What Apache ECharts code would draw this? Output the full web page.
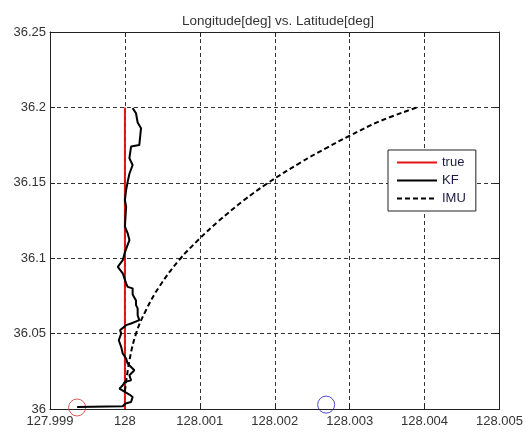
<!DOCTYPE html>
<html>
<head>
<meta charset="utf-8">
<script src="https://cdn.jsdelivr.net/npm/echarts@6/dist/echarts.min.js"></script>
<style>
  html, body { margin: 0; padding: 0; background: #fff; }
  #chart1 { width: 526px; height: 439px; }
</style>
</head>
<body>
<div id="chart1"></div>
<script>
  var xTicks = [127.999, 128, 128.001, 128.002, 128.003, 128.004, 128.005];
  var yTicks = [36, 36.05, 36.1, 36.15, 36.2, 36.25];

  // true 궤적
  var trueLon = [128.0, 128.0];
  var trueLat = [36.0, 36.2];

  // KF 추정
  var kfLon = [127.999362, 127.999971, 128.000007, 128.000082, 128.000103, 128.000060, 127.999927,
    127.999971, 128.000000, 128.000082, 128.000060, 128.000126, 128.000082, 128.000037, 128.000016,
    127.999971, 127.999950, 127.999918, 127.999950, 127.999936, 128.000016, 128.000082, 128.000192,
    128.000170, 128.000170, 128.000148, 128.000148, 128.000103, 128.000103, 128.000037, 128.000016,
    127.999971, 127.999905, 127.999971, 128.000000, 128.000060, 128.000037, 128.000000, 128.000016,
    128.000000, 128.000016, 128.000037, 128.000060, 128.000103, 128.000060, 128.000082, 128.000192,
    128.000215, 128.000170, 128.000148, 128.000103];
  var kfLat = [36.0013, 36.0018, 36.0036, 36.0046, 36.0080, 36.0096, 36.0135,
    36.0157, 36.0180, 36.0190, 36.0224, 36.0257, 36.0279, 36.0301, 36.0335,
    36.0368, 36.0412, 36.0456, 36.0500, 36.0523, 36.0556, 36.0567, 36.0589,
    36.0622, 36.0667, 36.0689, 36.0720, 36.0760, 36.0800, 36.0810, 36.0833,
    36.0900, 36.0943, 36.0987, 36.1040, 36.1120, 36.1165, 36.1210, 36.1341,
    36.1386, 36.1452, 36.1507, 36.1560, 36.1618, 36.1663, 36.1740, 36.1750,
    36.1862, 36.1900, 36.1961, 36.1995];

  // IMU 단독
  var imuLon = [128.00000, 128.00006, 128.000148, 128.000281, 128.000457, 128.000722, 128.00100,
    128.00125, 128.00158, 128.00190, 128.00235, 128.00270, 128.00300, 128.00340, 128.00390];
  var imuLat = [36.012, 36.032, 36.050, 36.0655, 36.081, 36.0987, 36.1131,
    36.1246, 36.1381, 36.1496, 36.1636, 36.1734, 36.1812, 36.1908, 36.200];

  // 시작/끝 표시
  var startPt = [127.999362, 36.0010];
  var endPt = [128.002686, 36.0029];

  var pairs = (xs, ys) => xs.map((x, i) => [x, ys[i]]);

  const drawChart = chartId => {
    let myChart = echarts.init(document.getElementById(chartId));
    let option;
    let fmt = v => String(parseFloat(v.toFixed(3)));
    let axisText = { color: '#333', fontFamily: 'Liberation Sans, Arial', fontSize: 13 };
    let split = { show: true, lineStyle: { color: '#333', type: [4, 3], width: 1 } };
    let frame = { show: true, lineStyle: { color: '#222', width: 1 } };

    option = {
      animation: false,
      backgroundColor: '#fff',
      title: {
        text: 'Longitude[deg] vs. Latitude[deg]',
        left: 273,
        top: 9,
        textAlign: 'center',
        textStyle: { color: '#333', fontFamily: 'Liberation Sans, Arial', fontSize: 13.5, fontWeight: 'normal' }
      },
      grid: { left: 50, right: 24, top: 32, bottom: 30 },
      legend: {
        data: ['true', 'KF', 'IMU'],
        orient: 'vertical',
        left: 388,
        top: 150,
        itemWidth: 40,
        itemHeight: 14,
        itemGap: 5,
        padding: [6, 10, 6, 8],
        borderColor: '#222',
        borderWidth: 1,
        backgroundColor: '#fff',
        itemStyle: { opacity: 0 },
        textStyle: { color: '#1a1a44', fontFamily: 'Liberation Sans, Arial', fontSize: 13 }
      },
      xAxis: [
        {
          type: 'value', position: 'bottom', min: 127.999, max: 128.005, interval: 0.001,
          axisLine: frame, axisTick: { inside: true, length: 5, lineStyle: { color: '#222' } },
          axisLabel: Object.assign({ formatter: fmt, margin: 6 }, axisText),
          splitLine: split
        },
        {
          type: 'value', position: 'top', min: 127.999, max: 128.005, interval: 0.001,
          axisLine: frame, axisTick: { inside: true, length: 5, lineStyle: { color: '#222' } },
          axisLabel: { show: false }, splitLine: { show: false }
        }
      ],
      yAxis: [
        {
          type: 'value', position: 'left', min: 36, max: 36.25, interval: 0.05,
          axisLine: frame, axisTick: { inside: true, length: 5, lineStyle: { color: '#222' } },
          axisLabel: Object.assign({ formatter: fmt, margin: 4 }, axisText),
          splitLine: split
        },
        {
          type: 'value', position: 'right', min: 36, max: 36.25, interval: 0.05,
          axisLine: frame, axisTick: { inside: true, length: 5, lineStyle: { color: '#222' } },
          axisLabel: { show: false }, splitLine: { show: false }
        }
      ],
      series: [
        {
          name: 'true', type: 'line', symbol: 'none',
          itemStyle: { color: '#e01515' },
          lineStyle: { color: '#e01515', width: 2 },
          data: pairs(trueLon, trueLat)
        },
        {
          name: 'KF', type: 'line', symbol: 'none',
          itemStyle: { color: '#000' },
          lineStyle: { color: '#000', width: 2 },
          data: pairs(kfLon, kfLat)
        },
        {
          name: 'IMU', type: 'line', symbol: 'none', smooth: 0.4,
          itemStyle: { color: '#000' },
          lineStyle: { color: '#000', width: 2, type: [5, 3] },
          data: pairs(imuLon, imuLat)
        },
        {
          type: 'scatter', symbol: 'circle', symbolSize: 17,
          itemStyle: { color: 'rgba(0,0,0,0)', borderColor: '#d03030', borderWidth: 1 },
          data: [startPt]
        },
        {
          type: 'scatter', symbol: 'circle', symbolSize: 17,
          itemStyle: { color: 'rgba(0,0,0,0)', borderColor: '#2020c0', borderWidth: 1 },
          data: [endPt]
        }
      ]
    };

    option && myChart.setOption(option);
  }

  drawChart('chart1');
</script>
</body>
</html>
